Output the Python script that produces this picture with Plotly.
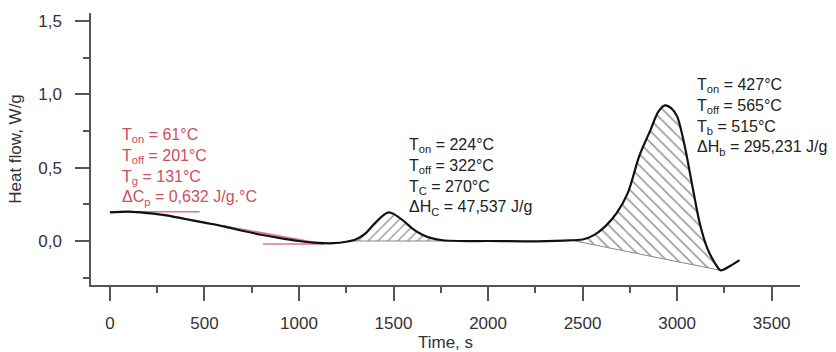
import plotly.graph_objects as go

# ---- data ----
time_s = [0, 100, 200, 300, 400, 500, 600, 700, 800, 900, 1000, 1100, 1180, 1250,
          1300, 1350, 1400, 1450, 1475, 1500, 1550, 1600, 1650, 1700, 1760, 1850,
          2000, 2200, 2400, 2500, 2560, 2620, 2680, 2740, 2800, 2860, 2900, 2935,
          2970, 3000, 3040, 3080, 3120, 3160, 3200, 3230, 3280, 3330]
heat_flow = [0.195, 0.20, 0.19, 0.175, 0.15, 0.125, 0.10, 0.07, 0.043, 0.02, 0.0,
             -0.013, -0.015, -0.005, 0.01, 0.05, 0.12, 0.18, 0.195, 0.185, 0.14,
             0.085, 0.045, 0.02, 0.005, 0.0, 0.0, -0.002, 0.003, 0.01, 0.04, 0.10,
             0.19, 0.33, 0.58, 0.76, 0.88, 0.925, 0.905, 0.85, 0.65, 0.38, 0.12,
             -0.05, -0.15, -0.2, -0.17, -0.13]

# integration windows (start, end) and baselines
peak1_window = [1270, 1780]
peak1_base = [0.0, 0.0]
peak2_window = [2460, 3230]
peak2_base = [0.0, -0.2]

# tangent construction lines for glass transition
tg_upper_x = [0, 475]
tg_upper_y = [0.2, 0.2]
tg_lower_x = [810, 1130]
tg_lower_y = [-0.02, -0.02]
tg_slope_x = [280, 1130]
tg_slope_y = [0.178, -0.02]

label_glass = ["T<sub>on</sub> = 61°C", "T<sub>off</sub> = 201°C",
               "T<sub>g</sub> = 131°C", "ΔC<sub>p</sub> = 0,632 J/g.°C"]
label_cryst = ["T<sub>on</sub> = 224°C", "T<sub>off</sub> = 322°C",
               "T<sub>C</sub> = 270°C", "ΔH<sub>C</sub> = 47,537 J/g"]
label_burn = ["T<sub>on</sub> = 427°C", "T<sub>off</sub> = 565°C",
              "T<sub>b</sub> = 515°C", "ΔH<sub>b</sub> = 295,231 J/g"]

RED = "#c9505c"
FONT = "Liberation Sans, Arial, sans-serif"


def segment(x0, x1):
    xs, ys = [], []
    for t, v in zip(time_s, heat_flow):
        if x0 <= t <= x1:
            xs.append(t)
            ys.append(v)
    return xs, ys


fig = go.Figure()

# peak 1 hatch
fig.add_trace(go.Scatter(x=peak1_window, y=peak1_base, mode="lines",
                         line=dict(color="#888888", width=1), hoverinfo="skip"))
sx, sy = segment(*peak1_window)
fig.add_trace(go.Scatter(x=sx, y=sy, mode="lines", line=dict(width=0, shape="spline"),
                         fill="tonexty", fillcolor="rgba(0,0,0,0)",
                         fillpattern=dict(shape="/", fgcolor="#333333", bgcolor="white",
                                          size=7, solidity=0.2),
                         hoverinfo="skip"))
# peak 2 hatch
fig.add_trace(go.Scatter(x=peak2_window, y=peak2_base, mode="lines",
                         line=dict(color="#888888", width=1), hoverinfo="skip"))
sx, sy = segment(*peak2_window)
fig.add_trace(go.Scatter(x=sx, y=sy, mode="lines", line=dict(width=0, shape="spline"),
                         fill="tonexty", fillcolor="rgba(0,0,0,0)",
                         fillpattern=dict(shape="\\", fgcolor="#333333", bgcolor="white",
                                          size=8, solidity=0.2),
                         hoverinfo="skip"))

# red tangent lines
for xx, yy in [(tg_upper_x, tg_upper_y), (tg_lower_x, tg_lower_y), (tg_slope_x, tg_slope_y)]:
    fig.add_trace(go.Scatter(x=xx, y=yy, mode="lines",
                             line=dict(color="#d77a84", width=1.6), hoverinfo="skip"))

# main curve
fig.add_trace(go.Scatter(x=time_s, y=heat_flow, mode="lines",
                         line=dict(color="#111111", width=2.2, shape="spline", smoothing=0.8)))

# text blocks
for lines, x, y, col in [(label_glass, 53, 0.80, RED),
                         (label_cryst, 1570, 0.73, "#222222"),
                         (label_burn, 3093, 1.14, "#222222")]:
    fig.add_annotation(x=x, y=y, xref="x", yref="y", xanchor="left", yanchor="top",
                       text="<br>".join(lines), showarrow=False, align="left",
                       font=dict(family=FONT, size=16, color=col))

fig.update_layout(
    width=836, height=352,
    margin=dict(l=91, r=36, t=13, b=67),
    plot_bgcolor="white", paper_bgcolor="white",
    showlegend=False,
    separators=",.",
    font=dict(family=FONT, color="#333333"),
)
fig.update_xaxes(
    range=[-100, 3650], tick0=0, dtick=500, ticks="outside", ticklen=14, tickwidth=1.5,
    tickcolor="#555555", showline=True, linecolor="#555555", linewidth=1.5,
    showgrid=False, zeroline=False, tickfont=dict(size=17), ticklabelstandoff=8,
    automargin=False,
    minor=dict(dtick=250, ticks="outside", ticklen=6, tickwidth=1.5, tickcolor="#555555"),
    title=dict(text="Time, s", font=dict(size=17), standoff=2),
)
fig.update_yaxes(
    range=[-0.30, 1.555], tick0=0, dtick=0.5, tickformat=".1f", ticks="outside",
    ticklen=14, tickwidth=1.5, tickcolor="#555555", showline=True, linecolor="#555555",
    linewidth=1.5, showgrid=False, zeroline=False, tickfont=dict(size=17),
    ticklabelstandoff=10, automargin=False,
    minor=dict(dtick=0.25, ticks="outside", ticklen=6, tickwidth=1.5, tickcolor="#555555"),
    title=dict(text="Heat flow, W/g", font=dict(size=17), standoff=12),
)

fig.write_html("out.html")
